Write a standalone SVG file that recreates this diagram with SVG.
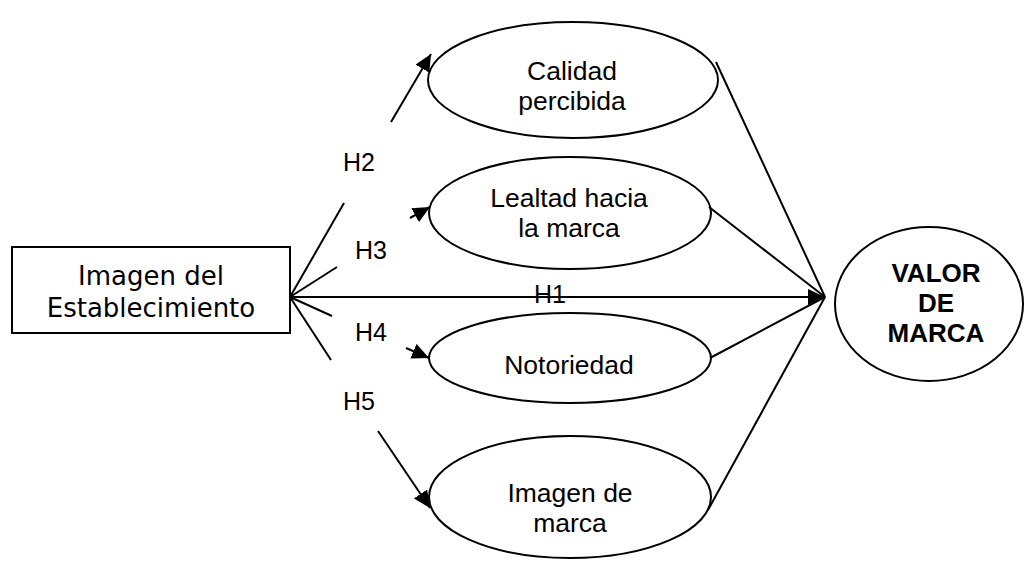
<svg xmlns="http://www.w3.org/2000/svg" width="1024" height="561" viewBox="0 0 1024 561">
<style>
.shape{fill:#fff;stroke:#000;stroke-width:2}
.ln{stroke:#000;stroke-width:2;fill:none}
.t{font-family:"Liberation Sans",Arial,sans-serif;font-size:26.5px;fill:#000;text-anchor:middle}
.tb{font-family:"Liberation Sans",Arial,sans-serif;font-size:26px;font-weight:bold;fill:#000;text-anchor:middle}
.tv{font-family:"DejaVu Sans",Verdana,sans-serif;font-size:26px;fill:#000;text-anchor:middle}
.h{font-family:"Liberation Sans",Arial,sans-serif;font-size:25px;fill:#000;text-anchor:middle}
</style>
<defs>
<marker id="arr" markerUnits="userSpaceOnUse" markerWidth="18" markerHeight="16" refX="17" refY="8" orient="auto">
<path d="M0,0 L17,8 L0,16 Z" fill="#000"/>
</marker>
</defs>
<rect width="1024" height="561" fill="#fff"/>
<g id="establecimiento">
<rect class="shape" x="12" y="247" width="278" height="86"/>
<text class="tv" x="151" y="285">Imagen del</text>
<text class="tv" x="151" y="317">Establecimiento</text>
</g>
<g id="calidad">
<ellipse class="shape" cx="573" cy="80" rx="145" ry="58"/>
<text class="t" x="572" y="80">Calidad</text>
<text class="t" x="572" y="110">percibida</text>
</g>
<g id="lealtad">
<ellipse class="shape" cx="570" cy="213" rx="141" ry="56"/>
<text class="t" x="569" y="207">Lealtad hacia</text>
<text class="t" x="569" y="237">la marca</text>
</g>
<g id="notoriedad">
<ellipse class="shape" cx="570" cy="358" rx="141" ry="45"/>
<text class="t" x="569" y="374">Notoriedad</text>
</g>
<g id="imagen-marca">
<ellipse class="shape" cx="570" cy="497" rx="141" ry="61"/>
<text class="t" x="570" y="502">Imagen de</text>
<text class="t" x="570" y="532">marca</text>
</g>
<g id="valor">
<ellipse class="shape" cx="929" cy="304" rx="94" ry="77"/>
<text class="tb" x="936" y="282">VALOR</text>
<text class="tb" x="936" y="312">DE</text>
<text class="tb" x="936" y="342">MARCA</text>
</g>
<g id="connectors">
<line class="ln" x1="290" y1="297" x2="344" y2="203"/>
<line class="ln" x1="391" y1="122" x2="431" y2="54" marker-end="url(#arr)"/>
<line class="ln" x1="290" y1="297" x2="337" y2="267"/>
<line class="ln" x1="410" y1="218" x2="430" y2="207" marker-end="url(#arr)"/>
<line class="ln" x1="290" y1="297" x2="825" y2="297" marker-end="url(#arr)"/>
<line class="ln" x1="290" y1="297" x2="332" y2="316"/>
<line class="ln" x1="406" y1="348" x2="429" y2="358" marker-end="url(#arr)"/>
<line class="ln" x1="290" y1="297" x2="331" y2="360"/>
<line class="ln" x1="378" y1="431" x2="430" y2="508" marker-end="url(#arr)"/>
<line class="ln" x1="716" y1="62" x2="825" y2="297"/>
<line class="ln" x1="709" y1="207" x2="825" y2="297"/>
<line class="ln" x1="710" y1="358" x2="825" y2="297"/>
<line class="ln" x1="708" y1="510" x2="825" y2="297"/>
</g>
<g id="labels">
<text class="h" x="359" y="171">H2</text>
<text class="h" x="371" y="259">H3</text>
<text class="h" x="550" y="303">H1</text>
<text class="h" x="371" y="341">H4</text>
<text class="h" x="359" y="410">H5</text>
</g>
</svg>
